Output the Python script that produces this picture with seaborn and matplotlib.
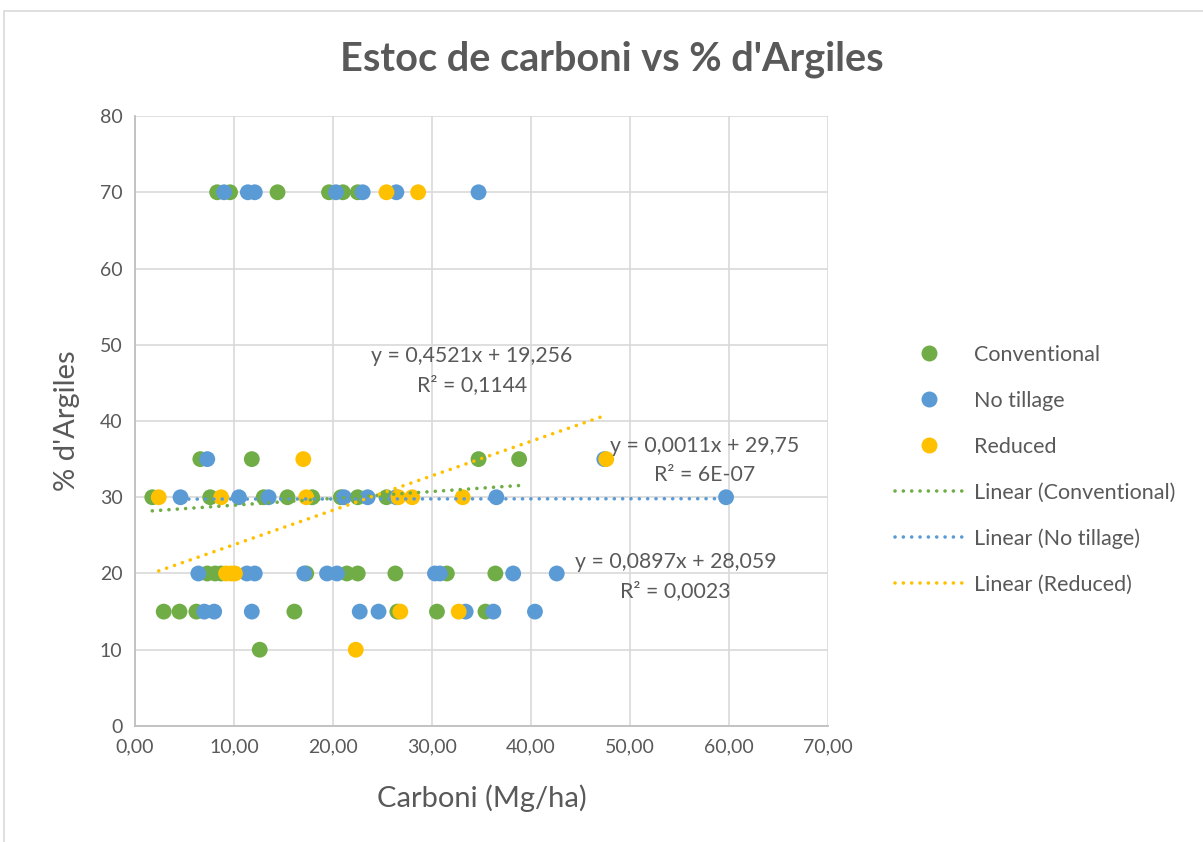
import numpy as np
import pandas as pd
import matplotlib
matplotlib.use("Agg")
import matplotlib.pyplot as plt
import seaborn as sns
from matplotlib.lines import Line2D
from matplotlib.patches import Rectangle

# ---------------- data ----------------
series_names = ["Conventional", "No tillage", "Reduced"]
colors = ["#70AD47", "#5B9BD5", "#FFC000"]

conv_x = [8.3, 9.6, 14.4, 19.6, 21.0, 22.5,
          6.6, 11.8, 34.7, 38.8,
          1.75, 7.6, 13.0, 15.4, 17.9, 20.8, 22.5, 25.4,
          7.3, 8.1, 8.7, 17.3, 21.4, 22.5, 26.3, 31.5, 36.4,
          2.9, 4.5, 6.2, 16.1, 26.5, 30.5, 35.4,
          12.6]
conv_y = [70, 70, 70, 70, 70, 70,
          35, 35, 35, 35,
          30, 30, 30, 30, 30, 30, 30, 30,
          20, 20, 20, 20, 20, 20, 20, 20, 20,
          15, 15, 15, 15, 15, 15, 15,
          10]

notill_x = [9.0, 11.4, 12.1, 20.3, 23.0, 26.4, 34.7,
            7.3, 47.4,
            4.6, 10.5, 13.5, 21.1, 23.5, 26.4, 36.5, 59.7,
            6.4, 11.3, 12.1, 17.1, 19.4, 20.4, 30.3, 30.8, 38.2, 42.6,
            7.0, 8.0, 11.8, 22.7, 24.6, 33.4, 36.2, 40.4]
notill_y = [70, 70, 70, 70, 70, 70, 70,
            35, 35,
            30, 30, 30, 30, 30, 30, 30, 30,
            20, 20, 20, 20, 20, 20, 20, 20, 20, 20,
            15, 15, 15, 15, 15, 15, 15, 15]

red_x = [25.4, 28.6,
         17.0, 47.6,
         2.4, 8.7, 17.3, 26.6, 28.0, 33.1,
         9.2, 9.7, 10.1,
         26.8, 32.7,
         22.3]
red_y = [70, 70,
         35, 35,
         30, 30, 30, 30, 30, 30,
         20, 20, 20,
         15, 15,
         10]

# trendline coefficients (as printed on the chart)
slopes = [0.0897, 0.0011, 0.4521]
intercepts = [28.059, 29.75, 19.256]
eq_labels = ["y = 0,0897x + 28,059\nR² = 0,0023",
             "y = 0,0011x + 29,75\nR² = 6E-07",
             "y = 0,4521x + 19,256\nR² = 0,1144"]

x_ticks = [0, 10, 20, 30, 40, 50, 60, 70]
y_ticks = [0, 10, 20, 30, 40, 50, 60, 70, 80]

# ---------------- plot ----------------
sns.set_theme(style="white")
font = "Lato"
plt.rcParams["font.family"] = [font, "DejaVu Sans"]
txt = "#595959"
dots = (0, (0.01, 2.3))

df = pd.concat([
    pd.DataFrame({"x": conv_x, "y": conv_y, "s": series_names[0]}),
    pd.DataFrame({"x": notill_x, "y": notill_y, "s": series_names[1]}),
    pd.DataFrame({"x": red_x, "y": red_y, "s": series_names[2]}),
], ignore_index=True)

fig = plt.figure(figsize=(12.03, 8.42), dpi=100)
ax = fig.add_axes([0.1122, 0.1378, 0.5761, 0.7244])

sns.scatterplot(data=df, x="x", y="y", hue="s", hue_order=series_names,
                palette=colors, s=130, linewidth=0, alpha=1, legend=False,
                ax=ax, zorder=3)

xs_all = [conv_x, notill_x, red_x]
for i, name in enumerate(series_names):
    xr = np.array([min(xs_all[i]), max(xs_all[i])])
    ax.plot(xr, slopes[i] * xr + intercepts[i], color=colors[i],
            linestyle=dots, linewidth=2.6,
            dash_capstyle="round", zorder=4)

ax.set_xlim(0, 70)
ax.set_ylim(0, 80)
ax.set_xticks(x_ticks)
ax.set_yticks(y_ticks)
ax.set_xticklabels([f"{v:.2f}".replace(".", ",") for v in x_ticks])
ax.set_yticklabels([str(v) for v in y_ticks])
ax.tick_params(axis="both", labelsize=14, colors=txt, length=0, pad=9)
ax.grid(True, color="#D9D9D9", linewidth=1.2)
ax.set_axisbelow(True)
for sp in ["top", "right"]:
    ax.spines[sp].set_visible(False)
for sp in ["left", "bottom"]:
    ax.spines[sp].set_color("#BFBFBF")
    ax.spines[sp].set_linewidth(1.3)

ax.set_xlabel("Carboni (Mg/ha)", fontsize=21, color=txt, labelpad=21)
ax.set_ylabel("% d'Argiles", fontsize=21, color=txt, labelpad=14)

fig.text(0.5083, 0.930, "Estoc de carboni vs % d'Argiles", ha="center",
         va="center", fontsize=28.5, fontweight="bold", color=txt)

# equation labels
eq_pos = [(54.6, 19.6), (57.5, 34.8), (34.0, 46.6)]
for lab, (ex, ey) in zip(eq_labels, eq_pos):
    ax.text(ex, ey, lab, ha="center", va="center", fontsize=15.3,
            color=txt, linespacing=1.55, zorder=5)

# legend
handles = []
for i, name in enumerate(series_names):
    handles.append(Line2D([], [], linestyle="none", marker="o",
                          markersize=11.5, markerfacecolor=colors[i],
                          markeredgewidth=0, label=name))
for i, name in enumerate(series_names):
    handles.append(Line2D([], [], color=colors[i], linestyle=dots,
                          linewidth=2.6, dash_capstyle="round",
                          label=f"Linear ({name})"))
leg = fig.legend(handles=handles, loc="center left",
                 bbox_to_anchor=(0.728, 0.442), frameon=False,
                 fontsize=15.5, labelspacing=1.2, handlelength=3.1,
                 handletextpad=0.55)
for t in leg.get_texts():
    t.set_color(txt)

# chart area border
fig.patches.append(Rectangle((0.003, -0.1), 1.2, 1.087,
                             transform=fig.transFigure, fill=False,
                             edgecolor="#D9D9D9", linewidth=1.2))

fig.savefig("out.png", dpi=100)
